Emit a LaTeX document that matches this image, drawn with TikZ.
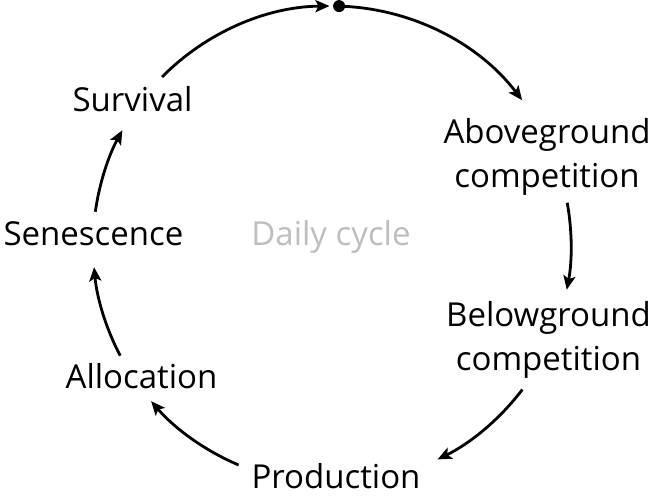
\documentclass[tikz,border=0pt]{standalone}
\usepackage{fontspec}
\setmainfont{Open Sans}
\usetikzlibrary{arrows.meta,calc}
\begin{document}
\begin{tikzpicture}[x=1pt,y=1pt,
  lbl/.style={font=\fontsize{33}{44}\selectfont, align=center, inner sep=0pt, anchor=base},
  cyc/.style={line width=2.8pt, -{Stealth[length=14pt,width=12pt,inset=3pt]}}]
\useasboundingbox (0,0) rectangle (661,-500);
\coordinate (c) at (332,-245);
\def\R{239}
\node[lbl] (surv) at (132.5,-111.7) {Survival};
\node[lbl] (sen) at (93.5,-245) {Senescence};
\node[lbl] (alloc) at (141.5,-388) {Allocation};
\node[lbl] (prod) at (336,-488) {Production};
\node[lbl] (above) at (547,-187) {Aboveground\\competition};
\node[lbl] (below) at (548.5,-370) {Belowground\\competition};
\node[lbl, text={rgb,255:red,190;green,190;blue,190}] (daily) at (331,-245) {Daily cycle};
\fill ($(c)+(88.3:\R)$) circle (6pt) coordinate (dot);
\path (c) ++(135.3:\R) coordinate (s1)
      (c) ++(37.3:\R) coordinate (a1)
      (c) ++(10.2:\R) coordinate (a2)
      (c) ++(-37.2:\R) coordinate (b2)
      (c) ++(-113:\R) coordinate (p2)
      (c) ++(-152.4:\R) coordinate (l2)
      (c) ++(172:\R) coordinate (e2);
\draw[cyc] (s1) arc[start angle=135.3, end angle=90.6, radius=\R];
\draw[cyc] (dot) arc[start angle=88.3, end angle=37.3, radius=\R];
\draw[cyc] (a2) arc[start angle=10.2, end angle=-10.8, radius=\R];
\draw[cyc] (b2) arc[start angle=-37.2, end angle=-63.8, radius=\R];
\draw[cyc] (p2) arc[start angle=-113, end angle=-139.2, radius=\R];
\draw[cyc] (l2) arc[start angle=-152.4, end angle=-174.7, radius=\R];
\draw[cyc] (e2) arc[start angle=172, end angle=151.3, radius=\R];
\end{tikzpicture}
\end{document}
